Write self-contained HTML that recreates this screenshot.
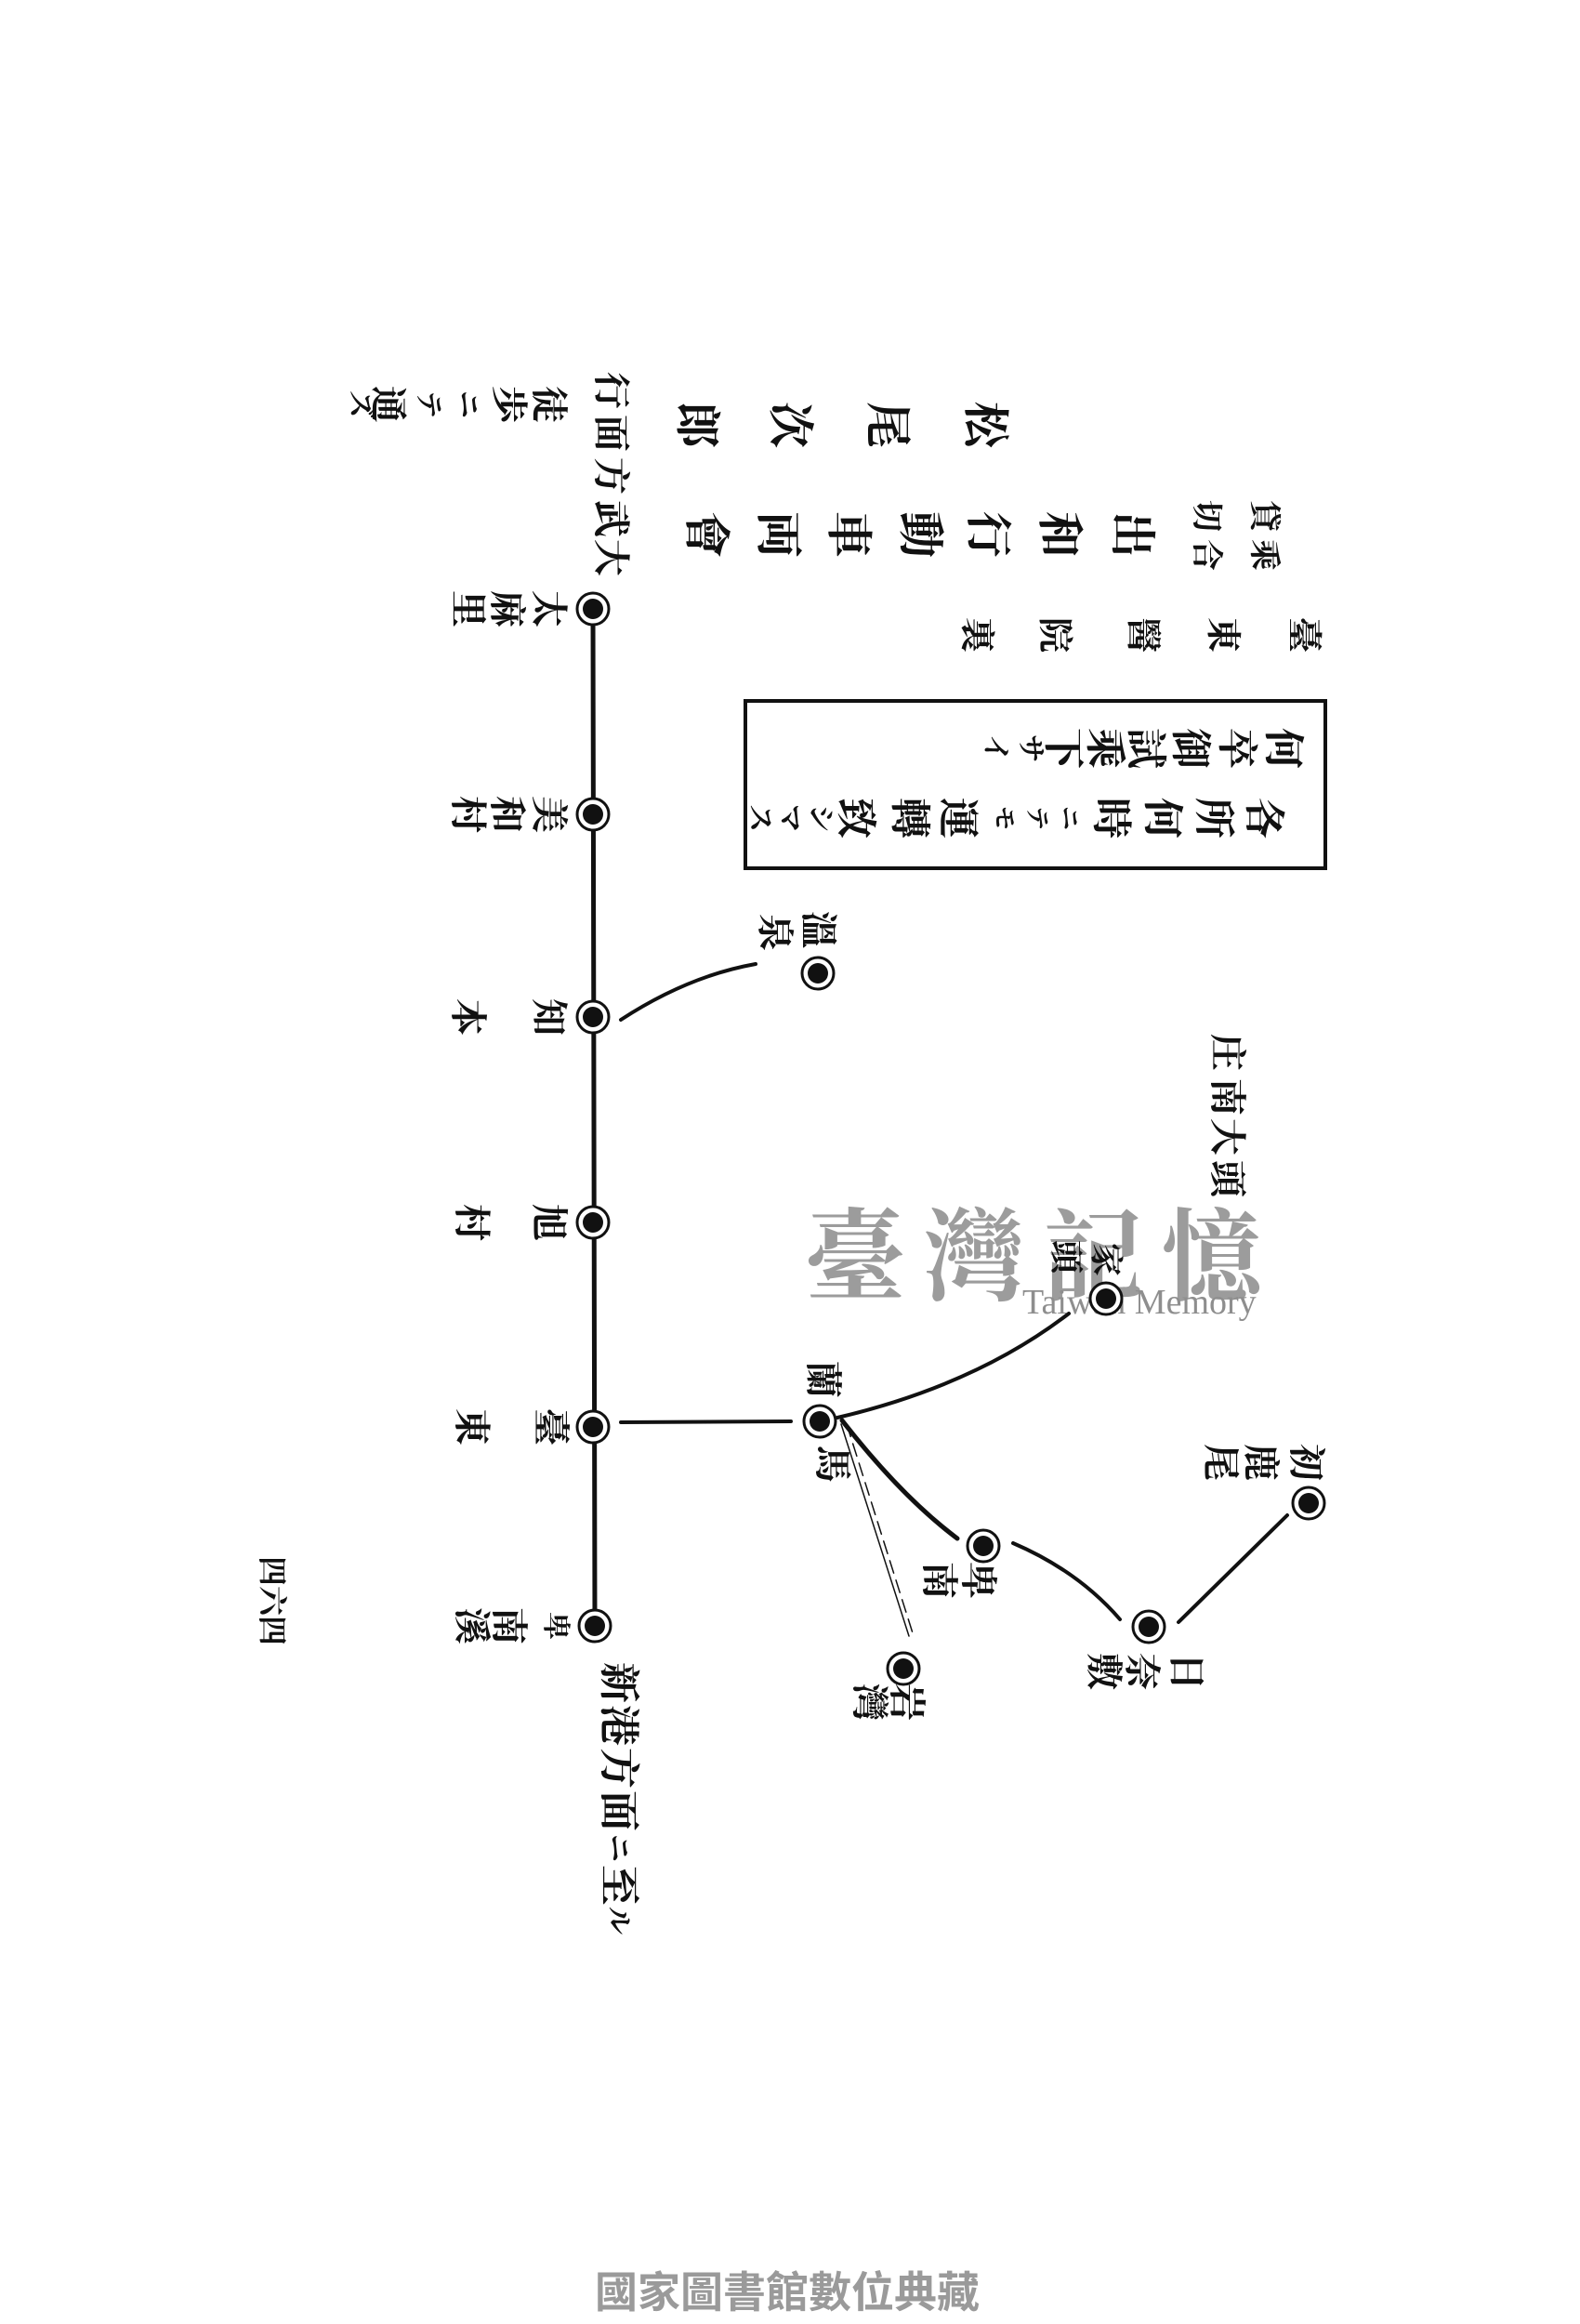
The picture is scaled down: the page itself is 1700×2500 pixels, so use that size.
<!DOCTYPE html>
<html><head><meta charset="utf-8">
<style>
html,body{margin:0;padding:0;background:#fff;}
#p{position:relative;width:1700px;height:2500px;overflow:hidden;background:#fff;}
.c{position:absolute;transform:rotate(90deg);text-align:center;line-height:1;font-family:"Liberation Serif","Noto Serif CJK SC","Noto Sans CJK SC",serif;font-weight:700;color:#111;white-space:nowrap;}
svg{position:absolute;left:0;top:0;}
</style></head><body><div id="p">
<svg width="1700" height="2500" viewBox="0 0 1700 2500">
<text x="866" y="1390" font-family="Noto Serif CJK SC, serif" font-weight="700" font-size="108" fill="#9c9c9c" letter-spacing="20">臺灣記憶</text>
<text x="1100" y="1413" font-family="Liberation Serif, serif" font-size="38" fill="#8e8e8e">Taiwan Memory</text>
<text x="640" y="2482" font-family="Noto Sans CJK TC, sans-serif" font-weight="700" font-size="46" fill="#9a9a9a">國家圖書館數位典藏</text>
<g stroke="#111" fill="none" stroke-linecap="round">
<line x1="638" y1="655" x2="640" y2="1749" stroke-width="5"/>
<path d="M668,1097 Q740,1050 813,1037" stroke-width="4"/>
<line x1="668" y1="1530" x2="851" y2="1529" stroke-width="4"/>
<path d="M901,1525 Q1050,1490 1150,1413" stroke-width="4"/>
<path d="M906,1528 Q970,1610 1030,1655" stroke-width="5"/>
<line x1="905" y1="1532" x2="978" y2="1760" stroke-width="1.5"/>
<line x1="911" y1="1532" x2="983" y2="1760" stroke-width="1.5" stroke-dasharray="14 8"/>
<path d="M1090,1660 Q1160,1690 1205,1742" stroke-width="4"/>
<line x1="1268" y1="1745" x2="1385" y2="1630" stroke-width="4"/>
<rect x="802" y="754" width="624" height="180" stroke-width="4"/>
</g>
<g>
<g fill="#fff" stroke="#111" stroke-width="3">
<circle cx="638" cy="655" r="17"/><circle cx="638" cy="876" r="17"/><circle cx="638" cy="1094" r="17"/><circle cx="638" cy="1315" r="17"/><circle cx="638" cy="1535" r="17"/><circle cx="640" cy="1749" r="17"/>
<circle cx="880" cy="1047" r="17"/><circle cx="1190" cy="1397" r="17"/><circle cx="882" cy="1529" r="17"/><circle cx="1058" cy="1663" r="17"/><circle cx="972" cy="1795" r="17"/><circle cx="1236" cy="1750" r="17"/><circle cx="1408" cy="1617" r="17"/>
</g>
<g fill="#111">
<circle cx="638" cy="655" r="11"/><circle cx="638" cy="876" r="11"/><circle cx="638" cy="1094" r="11"/><circle cx="638" cy="1315" r="11"/><circle cx="638" cy="1535" r="11"/><circle cx="640" cy="1749" r="11"/>
<circle cx="880" cy="1047" r="11"/><circle cx="1190" cy="1397" r="11"/><circle cx="882" cy="1529" r="11"/><circle cx="1058" cy="1663" r="11"/><circle cx="972" cy="1795" r="11"/><circle cx="1236" cy="1750" r="11"/><circle cx="1408" cy="1617" r="11"/>
</g></g>
</svg>

<span class="c" style="left:1035px;top:432px;width:50px;height:50px;font-size:50px">松</span>
<span class="c" style="left:930px;top:432px;width:50px;height:50px;font-size:50px">尾</span>
<span class="c" style="left:825px;top:432px;width:50px;height:50px;font-size:50px">次</span>
<span class="c" style="left:725px;top:432px;width:50px;height:50px;font-size:50px">郎</span>
<span class="c" style="left:1342px;top:538px;width:34px;height:34px;font-size:34px">貸</span>
<span class="c" style="left:1342px;top:580px;width:34px;height:34px;font-size:34px">乘</span>
<span class="c" style="left:1280px;top:538px;width:34px;height:34px;font-size:34px">切</span>
<span class="c" style="left:1280px;top:580px;width:34px;height:34px;font-size:34px">合</span>
<span class="c" style="left:1193px;top:550px;width:50px;height:50px;font-size:50px">出</span>
<span class="c" style="left:1115px;top:550px;width:50px;height:50px;font-size:50px">和</span>
<span class="c" style="left:1038px;top:550px;width:50px;height:50px;font-size:50px">行</span>
<span class="c" style="left:965px;top:550px;width:50px;height:50px;font-size:50px">動</span>
<span class="c" style="left:888px;top:550px;width:50px;height:50px;font-size:50px">車</span>
<span class="c" style="left:812px;top:550px;width:50px;height:50px;font-size:50px">両</span>
<span class="c" style="left:735px;top:550px;width:50px;height:50px;font-size:50px">會</span>
<span class="c" style="left:1383px;top:664px;width:38px;height:38px;font-size:38px">臺</span>
<span class="c" style="left:1296px;top:664px;width:38px;height:38px;font-size:38px">東</span>
<span class="c" style="left:1210px;top:664px;width:38px;height:38px;font-size:38px">醫</span>
<span class="c" style="left:1115px;top:664px;width:38px;height:38px;font-size:38px">院</span>
<span class="c" style="left:1031px;top:664px;width:38px;height:38px;font-size:38px">裏</span>
<span class="c" style="left:1358px;top:783px;width:44px;height:44px;font-size:44px">何</span>
<span class="c" style="left:1308px;top:783px;width:44px;height:44px;font-size:44px">卒</span>
<span class="c" style="left:1258px;top:783px;width:44px;height:44px;font-size:44px">御</span>
<span class="c" style="left:1210px;top:783px;width:44px;height:44px;font-size:44px">試</span>
<span class="c" style="left:1166px;top:783px;width:44px;height:44px;font-size:44px">乘</span>
<span class="c" style="left:1121px;top:783px;width:44px;height:44px;font-size:44px">下</span>
<span class="c" style="left:1093px;top:790px;width:30px;height:30px;font-size:30px">サ</span>
<span class="c" style="left:1055px;top:790px;width:30px;height:30px;font-size:30px">イ</span>
<span class="c" style="left:1337px;top:858px;width:44px;height:44px;font-size:44px">各</span>
<span class="c" style="left:1283px;top:858px;width:44px;height:44px;font-size:44px">所</span>
<span class="c" style="left:1228px;top:858px;width:44px;height:44px;font-size:44px">何</span>
<span class="c" style="left:1173px;top:858px;width:44px;height:44px;font-size:44px">時</span>
<span class="c" style="left:1137px;top:867px;width:26px;height:26px;font-size:26px">ニ</span>
<span class="c" style="left:1102px;top:867px;width:26px;height:26px;font-size:26px">テ</span>
<span class="c" style="left:1067px;top:867px;width:26px;height:26px;font-size:26px">モ</span>
<span class="c" style="left:1008px;top:858px;width:44px;height:44px;font-size:44px">運</span>
<span class="c" style="left:956px;top:858px;width:44px;height:44px;font-size:44px">轉</span>
<span class="c" style="left:898px;top:858px;width:44px;height:44px;font-size:44px">致</span>
<span class="c" style="left:867px;top:865px;width:30px;height:30px;font-size:30px">シ</span>
<span class="c" style="left:834px;top:865px;width:30px;height:30px;font-size:30px">マ</span>
<span class="c" style="left:802px;top:865px;width:30px;height:30px;font-size:30px">ス</span>
<span class="c" style="left:637px;top:400px;width:40px;height:40px;font-size:40px">行</span>
<span class="c" style="left:637px;top:446px;width:40px;height:40px;font-size:40px">面</span>
<span class="c" style="left:637px;top:492px;width:40px;height:40px;font-size:40px">方</span>
<span class="c" style="left:637px;top:538px;width:40px;height:40px;font-size:40px">武</span>
<span class="c" style="left:637px;top:580px;width:40px;height:40px;font-size:40px">大</span>
<span class="c" style="left:570px;top:415px;width:40px;height:40px;font-size:40px">徒</span>
<span class="c" style="left:527px;top:415px;width:40px;height:40px;font-size:40px">歩</span>
<span class="c" style="left:488px;top:420px;width:30px;height:30px;font-size:30px">ニ</span>
<span class="c" style="left:445px;top:420px;width:30px;height:30px;font-size:30px">テ</span>
<span class="c" style="left:397px;top:415px;width:40px;height:40px;font-size:40px">通</span>
<span class="c" style="left:372px;top:420px;width:30px;height:30px;font-size:30px">ズ</span>
<span class="c" style="left:570px;top:635px;width:40px;height:40px;font-size:40px">太</span>
<span class="c" style="left:525px;top:635px;width:40px;height:40px;font-size:40px">麻</span>
<span class="c" style="left:483px;top:635px;width:40px;height:40px;font-size:40px">里</span>
<span class="c" style="left:570px;top:856px;width:40px;height:40px;font-size:40px">美</span>
<span class="c" style="left:525px;top:856px;width:40px;height:40px;font-size:40px">和</span>
<span class="c" style="left:483px;top:856px;width:40px;height:40px;font-size:40px">村</span>
<span class="c" style="left:570px;top:1074px;width:40px;height:40px;font-size:40px">知</span>
<span class="c" style="left:483px;top:1074px;width:40px;height:40px;font-size:40px">本</span>
<span class="c" style="left:570px;top:1295px;width:40px;height:40px;font-size:40px">旭</span>
<span class="c" style="left:487px;top:1295px;width:40px;height:40px;font-size:40px">村</span>
<span class="c" style="left:572px;top:1515px;width:40px;height:40px;font-size:40px">臺</span>
<span class="c" style="left:487px;top:1515px;width:40px;height:40px;font-size:40px">東</span>
<span class="c" style="left:582px;top:1734px;width:30px;height:30px;font-size:30px">卑</span>
<span class="c" style="left:527px;top:1729px;width:40px;height:40px;font-size:40px">南</span>
<span class="c" style="left:487px;top:1729px;width:40px;height:40px;font-size:40px">溪</span>
<span class="c" style="left:643px;top:1788px;width:44px;height:44px;font-size:44px">新</span>
<span class="c" style="left:643px;top:1834px;width:44px;height:44px;font-size:44px">港</span>
<span class="c" style="left:643px;top:1880px;width:44px;height:44px;font-size:44px">方</span>
<span class="c" style="left:643px;top:1926px;width:44px;height:44px;font-size:44px">面</span>
<span class="c" style="left:650px;top:1973px;width:30px;height:30px;font-size:30px">ニ</span>
<span class="c" style="left:643px;top:2006px;width:44px;height:44px;font-size:44px">至</span>
<span class="c" style="left:650px;top:2051px;width:30px;height:30px;font-size:30px">ル</span>
<span class="c" style="left:860px;top:980px;width:40px;height:40px;font-size:40px">溫</span>
<span class="c" style="left:813px;top:983px;width:40px;height:40px;font-size:40px">泉</span>
<span class="c" style="left:1300px;top:1112px;width:40px;height:40px;font-size:40px">庄</span>
<span class="c" style="left:1300px;top:1160px;width:40px;height:40px;font-size:40px">南</span>
<span class="c" style="left:1300px;top:1203px;width:40px;height:40px;font-size:40px">大</span>
<span class="c" style="left:1300px;top:1248px;width:40px;height:40px;font-size:40px">頭</span>
<span class="c" style="left:1172px;top:1337px;width:36px;height:36px;font-size:36px">家</span>
<span class="c" style="left:1129px;top:1334px;width:36px;height:36px;font-size:36px">頭</span>
<span class="c" style="left:865px;top:1464px;width:40px;height:40px;font-size:40px">蘭</span>
<span class="c" style="left:875px;top:1555px;width:40px;height:40px;font-size:40px">馬</span>
<span class="c" style="left:1032px;top:1680px;width:40px;height:40px;font-size:40px">卑</span>
<span class="c" style="left:990px;top:1680px;width:40px;height:40px;font-size:40px">南</span>
<span class="c" style="left:955px;top:1811px;width:40px;height:40px;font-size:40px">岩</span>
<span class="c" style="left:915px;top:1811px;width:40px;height:40px;font-size:40px">灣</span>
<span class="c" style="left:1256px;top:1778px;width:40px;height:40px;font-size:40px">日</span>
<span class="c" style="left:1208px;top:1778px;width:40px;height:40px;font-size:40px">奈</span>
<span class="c" style="left:1167px;top:1778px;width:40px;height:40px;font-size:40px">敷</span>
<span class="c" style="left:1385px;top:1553px;width:40px;height:40px;font-size:40px">初</span>
<span class="c" style="left:1336px;top:1553px;width:40px;height:40px;font-size:40px">鹿</span>
<span class="c" style="left:1293px;top:1553px;width:40px;height:40px;font-size:40px">尾</span>
<span class="c" style="left:277px;top:1674px;width:32px;height:32px;font-size:32px">四</span>
<span class="c" style="left:277px;top:1706px;width:32px;height:32px;font-size:32px">六</span>
<span class="c" style="left:277px;top:1738px;width:32px;height:32px;font-size:32px">四</span>
</div></body></html>
